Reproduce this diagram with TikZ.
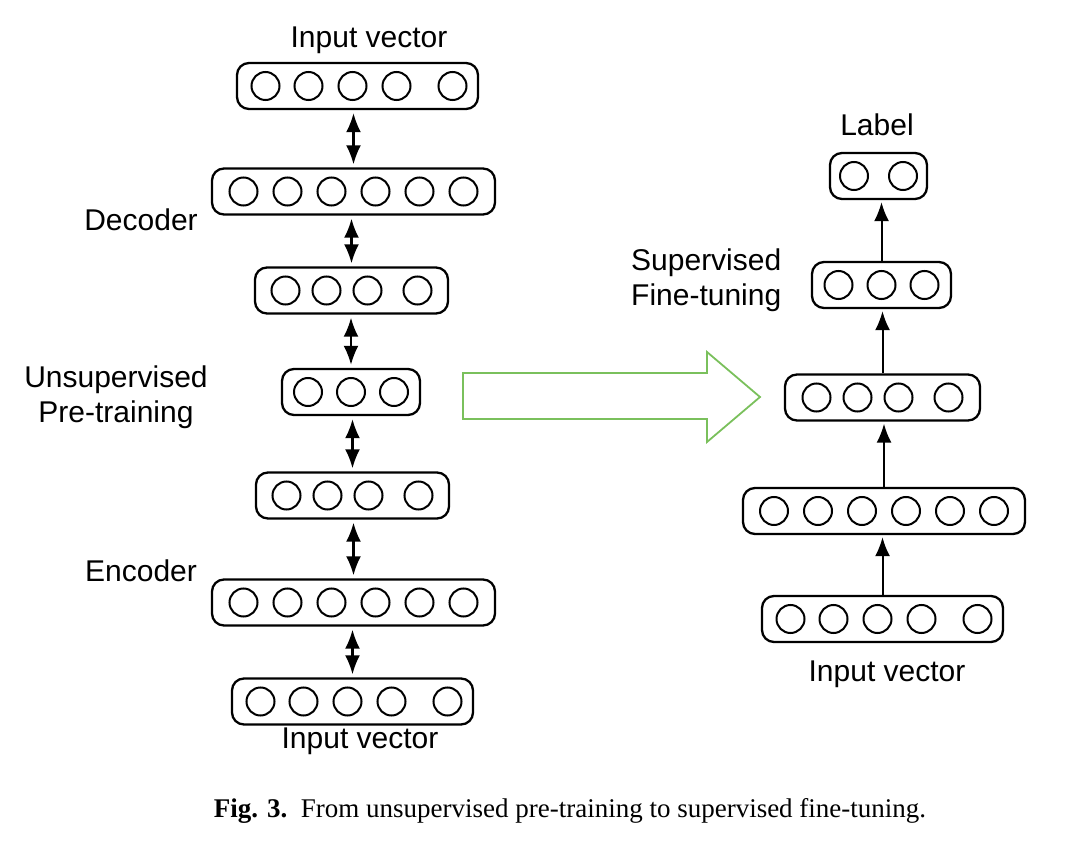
\documentclass[tikz,border=0pt]{standalone}
\usepackage{fontspec}
\setmainfont{Liberation Sans}
\newfontfamily\capfont{Liberation Serif}
\usepackage{xcolor}
\usepackage{tikz}
\usetikzlibrary{arrows.meta,positioning}

\definecolor{arrowgreen}{RGB}{122,192,92}

\begin{document}
\begin{tikzpicture}[
        x=1pt, y=-1pt,
        % Define styles for layers, units and links
        layer/.style={
            draw,
            rectangle,
            rounded corners=12pt,
            minimum height=46pt,
            inner sep=0pt,
            line width=2.3pt
        },
        unit/.style={
            draw,
            circle,
            minimum size=28pt,
            inner sep=0pt,
            line width=2pt
        },
        bidir/.style={
            {Latex[length=19pt,width=15pt]}-{Latex[length=19pt,width=15pt]},
            line width=2.2pt,
            shorten <=3pt,
            shorten >=3pt
        },
        feed/.style={
            -{Latex[length=19pt,width=15pt]},
            line width=2pt,
            shorten >=2pt
        },
        txt/.style={
            font=\fontsize{30}{35}\selectfont,
            inner sep=0pt,
            anchor=base
        },
        bigarrow/.style={
            draw=arrowgreen,
            line width=1.8pt,
            line join=miter
        }
    ]

    \useasboundingbox (0,0) rectangle (1074,850);

    % Place layers with their units (autoencoder on the left, network on the right)
    \foreach \name/\cx/\cy/\lw/\offs in {
        L1/357.5/86/241/{-92,-49,-5,39,95},
        L2/353.5/191.5/283/{-110,-66,-22,22,66,110},
        L3/351.5/290.5/193/{-66,-25,16,66},
        L4/351/392/138/{-43,0,43},
        L5/352.5/495.5/193/{-66,-25,16,66},
        L6/353.5/602.5/283/{-110,-66,-22,22,66,110},
        L7/352.5/701.5/241/{-92,-49,-5,39,95},
        R1/878.5/176/97/{-24.5,24.5},
        R2/881.5/285/139/{-43,0,43},
        R3/882.5/397.5/195/{-66,-25,16,66},
        R4/884/511/282/{-110,-66,-22,22,66,110},
        R5/882.5/619/241/{-92,-49,-5,39,95}} {
        \node[layer, minimum width=\lw pt] (\name) at (\cx,\cy) {};
        \foreach \dx [count=\k] in \offs {
            \node[unit] (\name-\k) at ([xshift=\dx pt]\name.center) {};
        }
    }

    % Draw links between layers
    \foreach \a/\b in {L1/L2,L2/L3,L3/L4,L4/L5,L5/L6,L6/L7} {
        \draw[bidir] (\b.north |- \a.south) -- (\b.north);
    }
    \foreach \a/\b in {R5/R4,R4/R3,R3/R2,R2/R1} {
        \draw[feed] (\a.north) -- (\a.north |- \b.south);
    }

    % Labels
    \node[txt] (intop) at (369,48) {Input vector};
    \node[txt] (dec) at (141,231) {Decoder};
    \node[txt, align=center] (pre) at (116,422) {Unsupervised\\Pre-training};
    \node[txt] (enc) at (141,581) {Encoder};
    \node[txt] (inbot) at (360,748) {Input vector};
    \node[txt] (lab) at (877,136) {Label};
    \node[txt, align=left, anchor=base west] (fine) at (631,306) {Supervised\\Fine-tuning};
    \node[txt] (inright) at (887,681) {Input vector};

    % Transfer arrow
    \draw[bigarrow] (463,373) -- (707,373) -- (707,352) -- (760,397)
        -- (707,442) -- (707,419) -- (463,419) -- cycle;

    % Caption
    \node[anchor=base, inner sep=0pt, font=\capfont\fontsize{27}{32}\selectfont] (cap) at (570,817)
        {\textbf{Fig. 3.}\enspace From unsupervised pre-training to supervised fine-tuning.};

\end{tikzpicture}
\end{document}
